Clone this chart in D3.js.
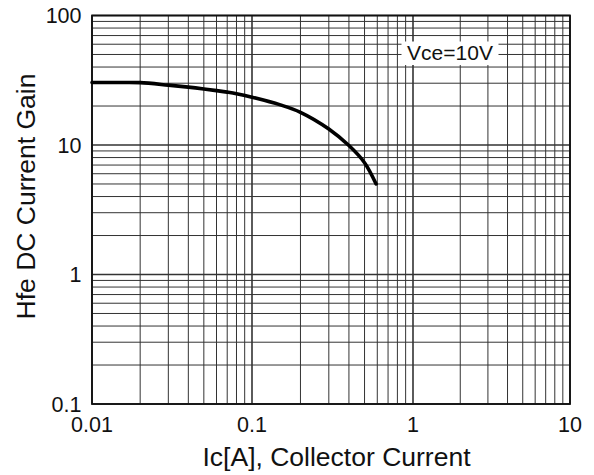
<!DOCTYPE html>
<html>
<head>
<meta charset="utf-8">
<script src="https://cdn.jsdelivr.net/npm/d3@7"></script>
<style>
  body { margin: 0; background: #fff; }
  text { font-family: "Liberation Sans", Arial, sans-serif; fill: #111; }
</style>
</head>
<body>
<svg></svg>
<script>
// collector current (A) and DC current gain
let icValues = [0.01, 0.015, 0.02, 0.03, 0.04, 0.05, 0.06, 0.07, 0.08, 0.1, 0.15, 0.2, 0.3, 0.4, 0.5, 0.59];
let hfeValues = [30.4, 30.4, 30.3, 29.0, 28.0, 27.1, 26.3, 25.6, 24.9, 23.4, 20.4, 17.9, 13.3, 9.9, 7.3, 5.0];

// decade ticks
let xTicks = [0.01, 0.1, 1, 10];
let xTickLabels = ['0.01', '0.1', '1', '10'];
let yTicks = [0.1, 1, 10, 100];
let yTickLabels = ['0.1', '1', '10', '100'];

let conditionLabel = 'Vce=10V';
let xTitle = 'Ic[A], Collector Current';
let yTitle = 'Hfe DC Current Gain';

let width = 594;
let height = 475;

let svg = d3.select('svg')
    .attr('width', width)
    .attr('height', height);

// log scales (x decades are not quite equal in the original)
let x = d3.scaleLog()
    .domain(xTicks)
    .range([92, 252, 413, 570]);

let y = d3.scaleLog()
    .domain([0.1, 100])
    .range([404, 15.5]);

let xMin = x(0.01), xMax = x(10);
let yMin = y(100), yMax = y(0.1);

// minor grid values 1..9 per decade
function minorValues(lo, hi) {
    let out = [];
    for (let d = lo; d < hi; d *= 10) {
        for (let k = 1; k <= 9; k++) out.push(d * k);
    }
    out.push(hi);
    return out;
}

let grid = svg.append('g').attr('class', 'grid');

grid.selectAll('line.vx')
    .data(minorValues(0.01, 10))
    .enter()
    .append('line')
    .attr('x1', d => x(d))
    .attr('x2', d => x(d))
    .attr('y1', yMin)
    .attr('y2', yMax)
    .attr('stroke', '#333')
    .attr('stroke-width', d => xTicks.some(t => Math.abs(t - d) < 1e-9) ? 1.6 : 1);

grid.selectAll('line.hy')
    .data(minorValues(0.1, 100))
    .enter()
    .append('line')
    .attr('y1', d => y(d))
    .attr('y2', d => y(d))
    .attr('x1', xMin)
    .attr('x2', xMax)
    .attr('stroke', '#333')
    .attr('stroke-width', d => yTicks.some(t => Math.abs(t - d) < 1e-9) ? 1.6 : 1);

// frame
svg.append('rect')
    .attr('x', xMin)
    .attr('y', yMin)
    .attr('width', xMax - xMin)
    .attr('height', yMax - yMin)
    .attr('fill', 'none')
    .attr('stroke', '#111')
    .attr('stroke-width', 1.8);

// curve
let line = d3.line()
    .x(d => x(d[0]))
    .y(d => y(d[1]))
    .curve(d3.curveCatmullRom.alpha(0.5));

svg.append('path')
    .datum(icValues.map((v, i) => [v, hfeValues[i]]))
    .attr('d', line)
    .attr('fill', 'none')
    .attr('stroke', '#000')
    .attr('stroke-width', 3.6)
    .attr('stroke-linecap', 'round');

// condition label with white box
let labelG = svg.append('g');
labelG.append('rect')
    .attr('x', 401.5)
    .attr('y', 41.5)
    .attr('width', 97)
    .attr('height', 23.5)
    .attr('fill', '#fff');
labelG.append('text')
    .attr('x', 450)
    .attr('y', 60)
    .attr('text-anchor', 'middle')
    .style('font-size', '21px')
    .text(conditionLabel);

// tick labels
svg.selectAll('text.xt')
    .data(xTicks)
    .enter()
    .append('text')
    .attr('x', d => x(d))
    .attr('y', 432)
    .attr('text-anchor', 'middle')
    .style('font-size', '21.5px')
    .text((d, i) => xTickLabels[i]);

svg.selectAll('text.yt')
    .data(yTicks)
    .enter()
    .append('text')
    .attr('x', 81.5)
    .attr('y', d => y(d))
    .attr('dy', '0.36em')
    .attr('text-anchor', 'end')
    .style('font-size', '21.5px')
    .text((d, i) => yTickLabels[i]);

// axis titles
svg.append('text')
    .attr('x', 336.5)
    .attr('y', 466)
    .attr('text-anchor', 'middle')
    .style('font-size', '26.5px')
    .text(xTitle);

svg.append('text')
    .attr('transform', 'translate(35,196.5) rotate(-90)')
    .attr('text-anchor', 'middle')
    .style('font-size', '26.5px')
    .text(yTitle);
</script>
</body>
</html>
